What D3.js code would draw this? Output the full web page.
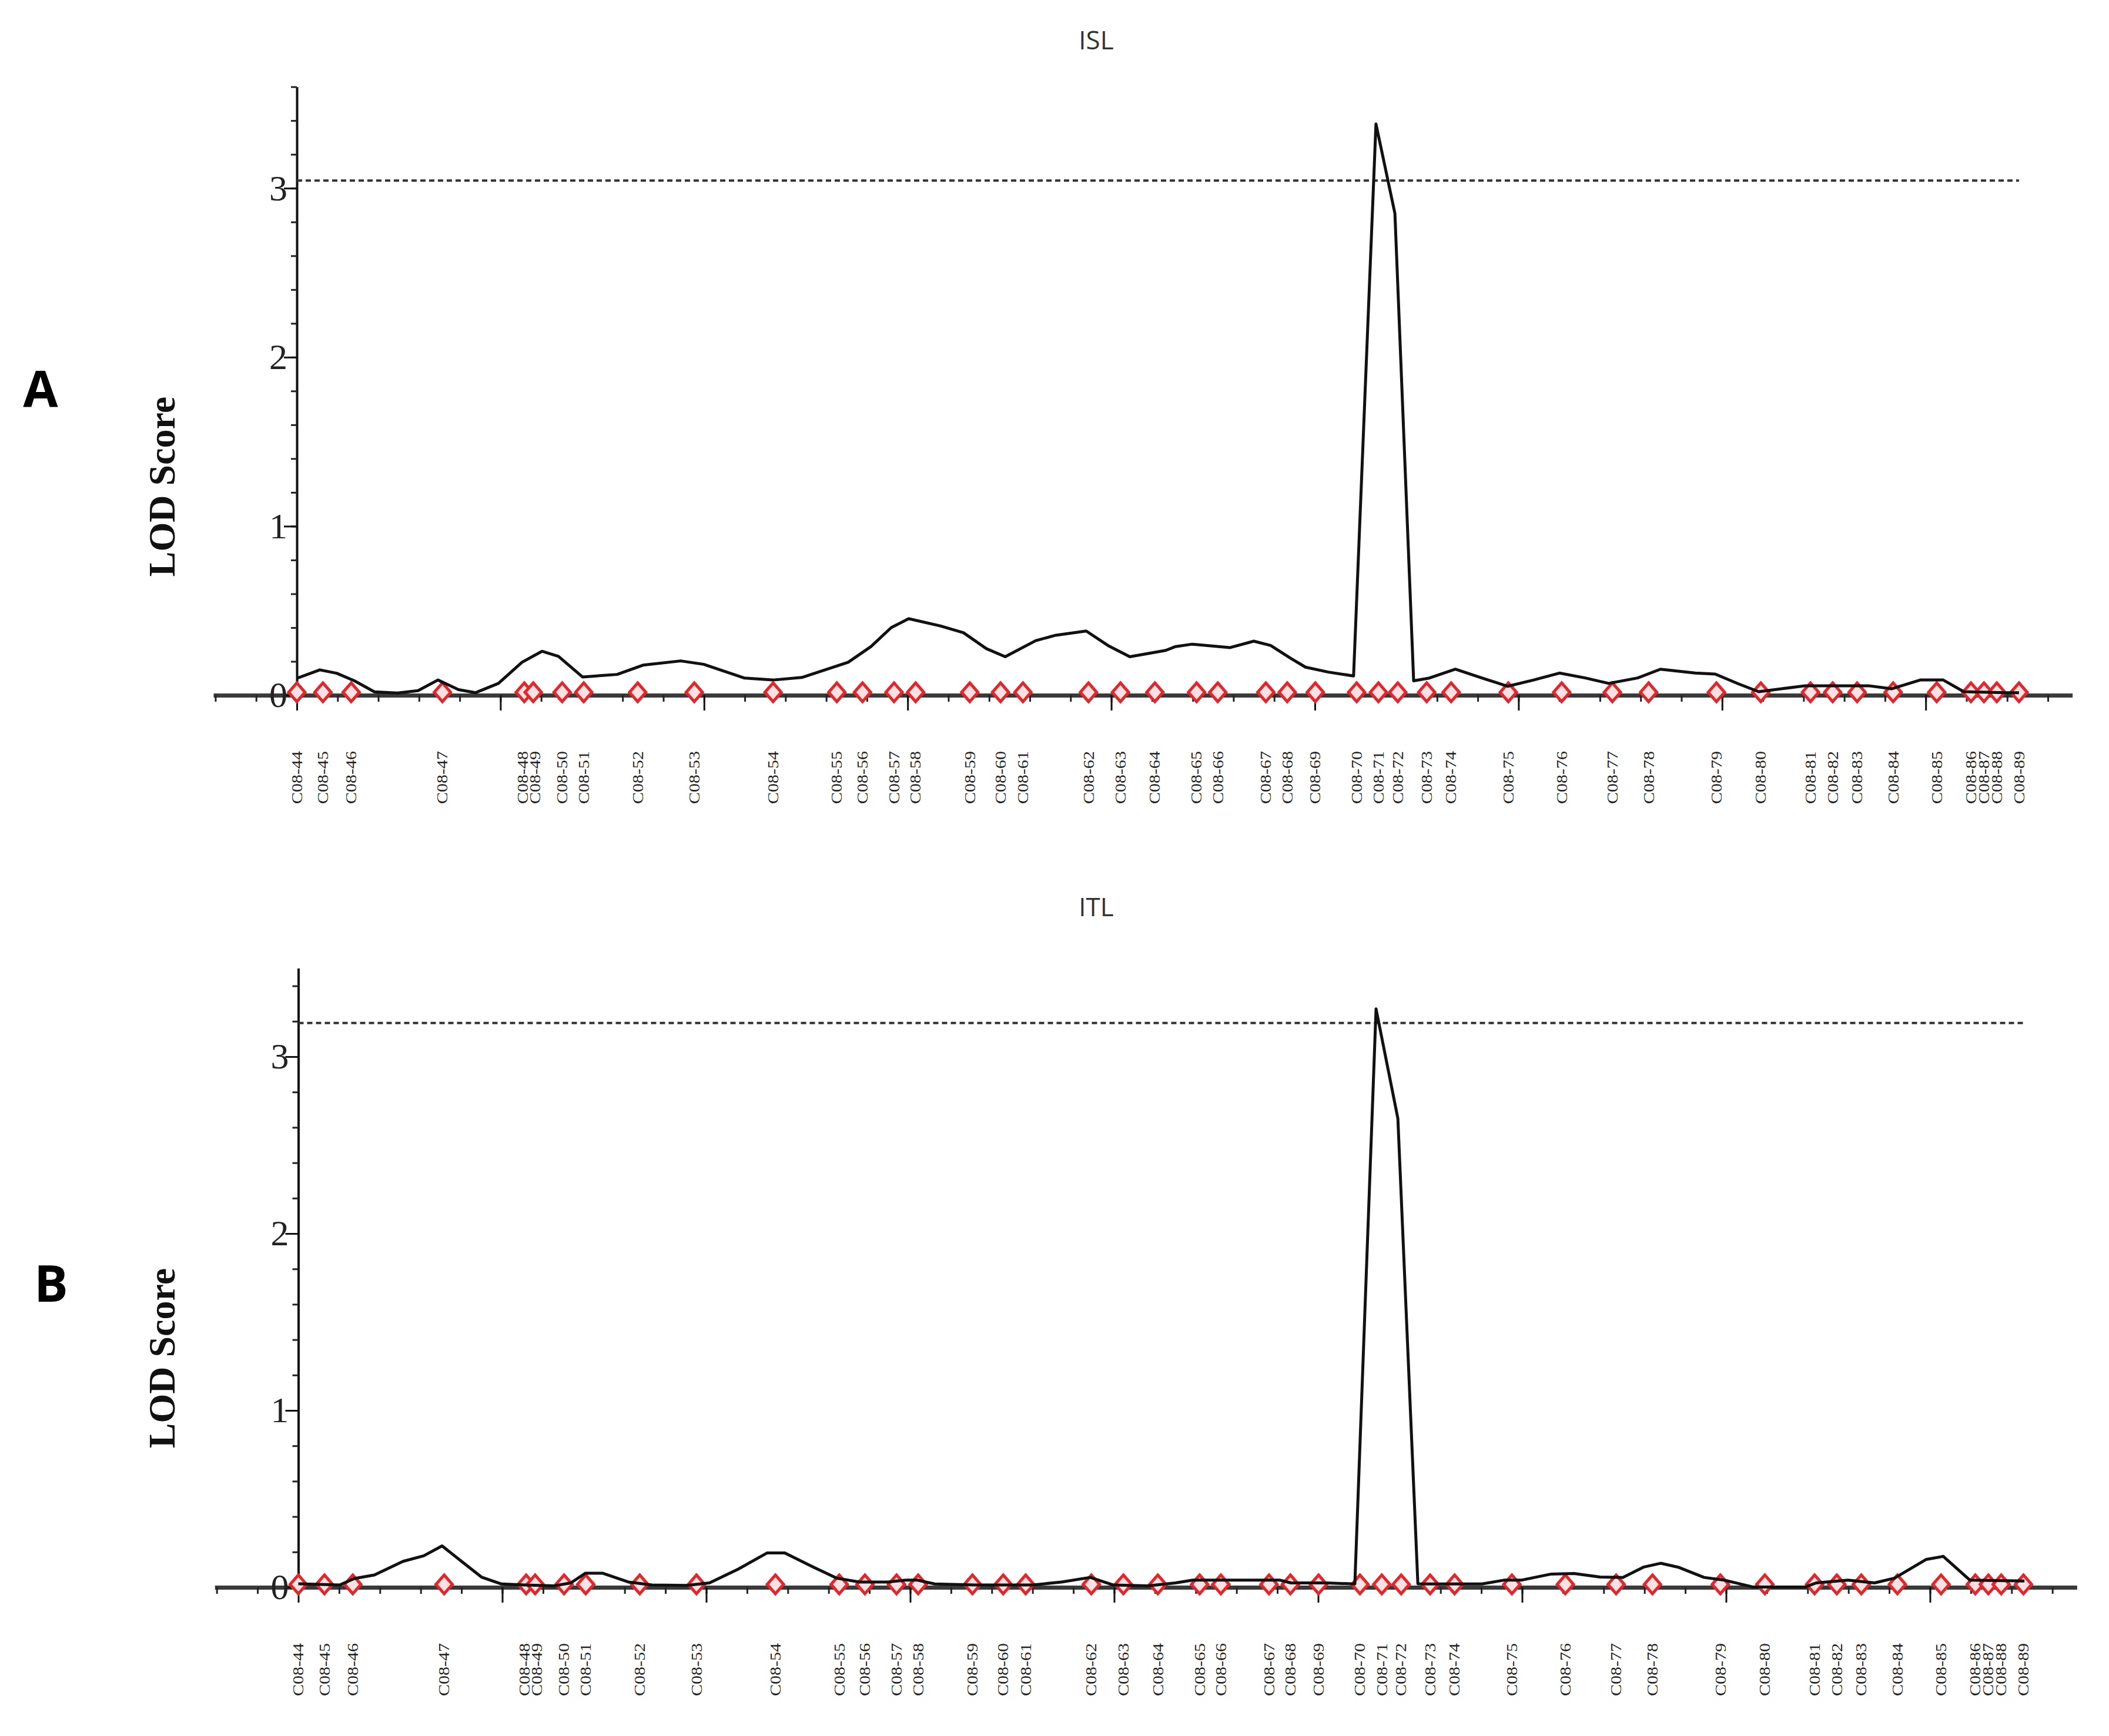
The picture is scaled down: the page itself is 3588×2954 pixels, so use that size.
<!DOCTYPE html>
<html>
<head>
<meta charset="utf-8">
<script src="https://cdn.jsdelivr.net/npm/d3@7"></script>
<style>
  body { margin: 0; background: #fff; }
  svg { display: block; }
</style>
</head>
<body>
<svg id="chart"></svg>
<script>
const width = 3588, height = 2954; // Size of the figure

// Markers along the linkage group (position in cM)
const markerNames = ["C08-44","C08-45","C08-46","C08-47","C08-48","C08-49","C08-50","C08-51","C08-52","C08-53",
    "C08-54","C08-55","C08-56","C08-57","C08-58","C08-59","C08-60","C08-61","C08-62","C08-63",
    "C08-64","C08-65","C08-66","C08-67","C08-68","C08-69","C08-70","C08-71","C08-72","C08-73",
    "C08-74","C08-75","C08-76","C08-77","C08-78","C08-79","C08-80","C08-81","C08-82","C08-83",
    "C08-84","C08-85","C08-86","C08-87","C08-88","C08-89"];
const markerCm = [0.0, 1.28, 2.67, 7.15, 11.17, 11.61, 13.03, 14.09, 16.74, 19.52,
    23.39, 26.52, 27.78, 29.33, 30.39, 33.05, 34.56, 35.66, 38.88, 40.45,
    42.14, 44.19, 45.23, 47.59, 48.64, 50.02, 52.05, 53.12, 54.07, 55.49,
    56.69, 59.50, 62.12, 64.61, 66.39, 69.72, 71.90, 74.34, 75.43, 76.63,
    78.40, 80.54, 82.22, 82.86, 83.49, 84.58];

// ISL LOD profile (cM, LOD)
const islCm = [0.0, 1.13, 1.96, 2.83, 3.81, 4.94, 5.95, 6.93, 7.94, 8.78, 9.90, 11.06, 12.04, 12.85, 14.03,
    15.73, 17.00, 18.85, 19.98, 21.97, 23.38, 24.80, 27.08, 28.20, 29.19, 30.05, 31.61, 32.74, 33.86,
    34.79, 36.29, 37.27, 38.77, 39.84, 40.91, 42.67, 43.16, 43.97, 45.84, 47.00, 47.83, 48.82, 49.54,
    50.66, 51.90, 53.00, 53.93, 54.85, 55.63, 56.90, 58.20, 59.47, 60.74, 62.01, 63.28, 64.43, 65.85,
    66.97, 68.68, 69.66, 70.81, 71.80, 72.92, 74.08, 77.19, 78.32, 79.73, 80.86, 81.87, 84.01, 84.58];
const islLod = [0.10, 0.15, 0.13, 0.085, 0.02, 0.013, 0.027, 0.09, 0.033, 0.015, 0.07, 0.195, 0.26, 0.23, 0.108,
    0.123, 0.178, 0.203, 0.183, 0.102, 0.09, 0.105, 0.195, 0.288, 0.40, 0.453, 0.41, 0.37, 0.276,
    0.228, 0.323, 0.355, 0.38, 0.294, 0.228, 0.265, 0.288, 0.302, 0.282, 0.32, 0.294, 0.218, 0.166,
    0.137, 0.114, 3.38, 2.85, 0.085, 0.102, 0.154, 0.102, 0.053, 0.09, 0.131, 0.102, 0.07, 0.102,
    0.154, 0.131, 0.125, 0.067, 0.021, 0.038, 0.056, 0.056, 0.038, 0.09, 0.09, 0.021, 0.015, 0.015];

// ITL LOD profile (cM, LOD)
const itlCm = [0.0, 2.03, 2.75, 3.73, 5.14, 6.15, 7.05, 8.00, 8.98, 9.96, 11.11, 12.52, 13.36, 14.08, 14.91,
    16.18, 17.34, 19.04, 20.16, 21.57, 22.98, 23.85, 25.26, 26.39, 27.51, 28.92, 29.79, 30.33, 31.20,
    33.18, 36.00, 37.42, 38.83, 39.96, 41.66, 43.01, 43.85, 48.11, 48.67, 50.37, 51.80, 52.84, 53.91,
    54.89, 55.46, 58.03, 59.15, 59.99, 61.43, 62.55, 63.82, 64.94, 65.95, 66.79, 67.65, 68.92, 69.90,
    71.31, 73.88, 74.42, 75.98, 77.28, 78.26, 79.82, 80.65, 81.95, 84.63];
const itlLod = [0.02, 0.013, 0.05, 0.07, 0.147, 0.178, 0.234, 0.147, 0.058, 0.019, 0.013, 0.008, 0.025, 0.08, 0.08,
    0.03, 0.013, 0.011, 0.025, 0.103, 0.194, 0.194, 0.114, 0.052, 0.03, 0.03, 0.041, 0.041, 0.019,
    0.013, 0.013, 0.03, 0.056, 0.013, 0.008, 0.025, 0.041, 0.041, 0.025, 0.025, 0.019, 3.27, 2.65,
    0.02, 0.019, 0.019, 0.041, 0.041, 0.075, 0.078, 0.058, 0.056, 0.114, 0.136, 0.114, 0.056, 0.041,
    0.002, 0.002, 0.025, 0.041, 0.025, 0.052, 0.158, 0.175, 0.041, 0.036];

// Significance thresholds
const thresholds = [3.045, 3.19];
const traits = ["ISL", "ITL"];
const letters = ["A", "B"];

// Layout of each panel (pixels)
const layout = [
    { x0: 505, cmPx: 34.64, y0: 1183, unit: 287.6, yTop: 3.6, titleY: 84, letterX: 69, letterY: 693, labelY: 828 },
    { x0: 507.5, cmPx: 34.7, y0: 2701, unit: 301, yTop: 3.5, titleY: 1559, letterX: 87, letterY: 2215, labelY: 2311 }
];
const xDomain = [-4.1, 87.2];
const labelGap = 21; // minimum spacing between marker names

const svg = d3.select("#chart")
    .attr("width", width)
    .attr("height", height);

svg.append("rect").attr("width", width).attr("height", height).attr("fill", "#fff");

const profiles = [
    islCm.map((c, i) => ({ cm: c, lod: islLod[i] })),
    itlCm.map((c, i) => ({ cm: c, lod: itlLod[i] }))
];

// Push crowded labels apart so they don't overlap
function spreadLabels(xs, gap) {
    const pos = xs.slice();
    for (let it = 0; it < 50; it++) {
        for (let i = 1; i < pos.length; i++) {
            const d = pos[i] - pos[i - 1];
            if (d < gap) {
                const shift = (gap - d) / 2;
                pos[i - 1] -= shift;
                pos[i] += shift;
            }
        }
    }
    return pos;
}

layout.forEach((L, p) => {
    const g = svg.append("g");

    const x = d3.scaleLinear()
        .domain(xDomain)
        .range([L.x0 + xDomain[0] * L.cmPx, L.x0 + xDomain[1] * L.cmPx]);
    const y = d3.scaleLinear()
        .domain([0, L.yTop])
        .range([L.y0, L.y0 - L.yTop * L.unit]);

    // X axis: minor ticks every 2 cM, major every 10 cM
    const xMinor = g.append("g")
        .attr("transform", `translate(0,${L.y0})`)
        .call(d3.axisBottom(x).tickValues(d3.range(-4, 87, 2)).tickSize(11).tickSizeOuter(0).tickFormat(""));
    xMinor.select(".domain").attr("stroke", "#3a3a3a").attr("stroke-width", 7);
    xMinor.selectAll(".tick line").attr("stroke", "#222").attr("stroke-width", 3);

    const xMajor = g.append("g")
        .attr("transform", `translate(0,${L.y0})`)
        .call(d3.axisBottom(x).tickValues(d3.range(0, 81, 10)).tickSize(26).tickSizeOuter(0).tickFormat(""));
    xMajor.select(".domain").remove();
    xMajor.selectAll(".tick line").attr("stroke", "#111").attr("stroke-width", 3);

    // Y axis: minor ticks every 0.2, labelled every 1
    const yMinor = g.append("g")
        .attr("transform", `translate(${L.x0},0)`)
        .call(d3.axisLeft(y).tickValues(d3.range(0, L.yTop + 0.001, 0.2)).tickSize(10).tickSizeOuter(0).tickFormat(""));
    yMinor.select(".domain").attr("stroke", "#111").attr("stroke-width", 4);
    yMinor.selectAll(".tick line").attr("stroke", "#222").attr("stroke-width", 3);

    const yMajor = g.append("g")
        .attr("transform", `translate(${L.x0},0)`)
        .call(d3.axisLeft(y).tickValues([0, 1, 2, 3]).tickSize(22).tickPadding(-6).tickFormat(d3.format("d")));
    yMajor.select(".domain").remove();
    yMajor.selectAll(".tick line").attr("stroke", "#111").attr("stroke-width", 3);
    yMajor.selectAll(".tick text")
        .attr("fill", "#222")
        .style("font-family", "'Liberation Serif', 'Times New Roman', serif")
        .style("font-size", "62px");

    // Marker diamonds on the axis
    g.selectAll(".marker")
        .data(markerCm)
        .enter().append("path")
        .attr("class", "marker")
        .attr("transform", d => `translate(${x(d)},${L.y0 - 5})`)
        .attr("d", "M0,-16L14,0L0,16L-14,0Z")
        .attr("fill", "#fbe1e1")
        .attr("stroke", "#e3262b")
        .attr("stroke-width", 5);

    // Marker names, rotated and slightly condensed
    const labelX = spreadLabels(markerCm.map(d => x(d)), labelGap);
    g.selectAll(".mname")
        .data(markerNames)
        .enter().append("text")
        .attr("class", "mname")
        .attr("transform", (d, i) => `translate(${labelX[i]},${L.y0 + 95}) rotate(-90) scale(1.2,1)`)
        .attr("text-anchor", "end")
        .attr("dy", "0.35em")
        .style("font-family", "'Liberation Serif', 'Times New Roman', serif")
        .style("font-size", "25px")
        .attr("fill", "#222")
        .text(d => d);

    // Threshold line
    g.append("line")
        .attr("x1", x(markerCm[0]))
        .attr("x2", x(markerCm[markerCm.length - 1]))
        .attr("y1", y(thresholds[p]))
        .attr("y2", y(thresholds[p]))
        .attr("stroke", "#333")
        .attr("stroke-width", 4)
        .attr("stroke-dasharray", "9,6");

    // LOD curve
    const line = d3.line().x(d => x(d.cm)).y(d => y(d.lod));
    g.append("path")
        .datum(profiles[p])
        .attr("d", line)
        .attr("fill", "none")
        .attr("stroke", "#111")
        .attr("stroke-width", 5)
        .attr("stroke-linejoin", "round");

    // Title
    g.append("text")
        .attr("x", 1865)
        .attr("y", L.titleY)
        .attr("text-anchor", "middle")
        .style("font-family", "'Open Sans', 'Noto Sans', sans-serif")
        .style("font-size", "44px")
        .attr("fill", "#333")
        .text(traits[p]);

    // Panel letter
    g.append("text")
        .attr("x", L.letterX)
        .attr("y", L.letterY)
        .attr("text-anchor", "middle")
        .style("font-family", "'Open Sans', 'Noto Sans', sans-serif")
        .style("font-weight", "bold")
        .style("font-size", "86px")
        .attr("fill", "#000")
        .text(letters[p]);

    // Y axis label
    g.append("text")
        .attr("transform", `translate(275,${L.labelY}) rotate(-90)`)
        .attr("text-anchor", "middle")
        .attr("dy", "0.35em")
        .style("font-family", "'Liberation Serif', 'Times New Roman', serif")
        .style("font-weight", "bold")
        .style("font-size", "64px")
        .attr("fill", "#111")
        .text("LOD Score");
});
</script>
</body>
</html>
